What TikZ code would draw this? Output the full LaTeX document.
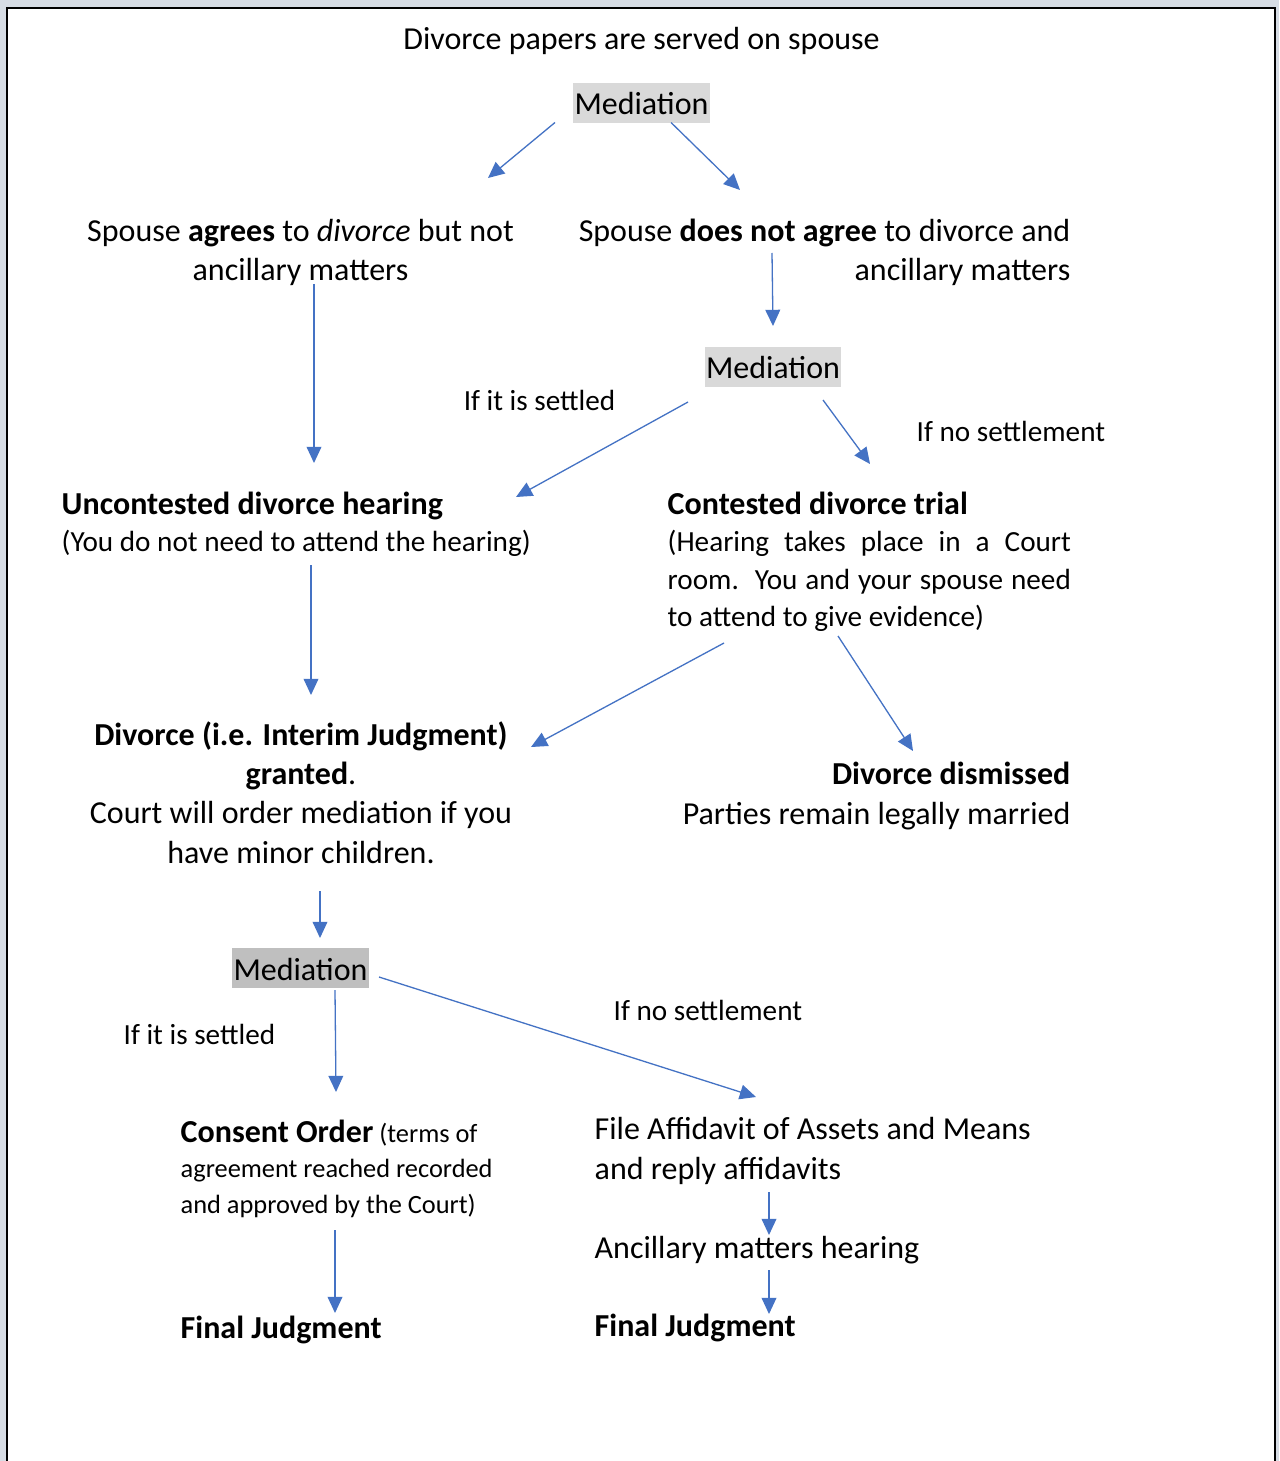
\documentclass[tikz,border=0pt]{standalone}
\usepackage{fontspec}
\setmainfont{Carlito}
\usetikzlibrary{arrows.meta,calc}
\definecolor{pagegray}{RGB}{214,220,228}
\definecolor{arrblue}{RGB}{68,114,196}
\definecolor{medlight}{RGB}{217,217,217}
\definecolor{meddark}{RGB}{191,191,191}
\newcommand{\fsmall}{\fontsize{8.3}{10.7}\selectfont}
\newcommand{\fxsmall}{\fontsize{7.5}{9.96}\selectfont}

\begin{document}
\begin{tikzpicture}[x = 0.01cm, y = -0.01cm,
    txt/.style = {inner sep = 0, font = \fontsize{9.1}{11.1}\selectfont},
    med/.style = {txt, fill = #1, inner xsep = 0.3pt, text height = 9pt, text depth = 2.4pt},
    arr/.style = {draw = arrblue, line width = 0.37pt, -{Triangle[length = 4.6pt, width = 4.2pt]}}]
  \useasboundingbox (0, 0) rectangle (1279, 1461);
  \fill [pagegray] (0, 0) rectangle (1279, 1461);
  \fill [white] (7, 8) rectangle (1275, 1461);
  \draw [line width = 0.6pt] (7, 1461) -- (7, 8) -- (1275, 8) -- (1275, 1461);

  % first stage (base = last line of a node)
  \node [txt, anchor = base] (served) at (641.5, 50) {Divorce papers are served on spouse};
  \node [med = medlight, anchor = base] (med1) at (641.5, 114.5) {Mediation};
  \node [txt, align = center, anchor = base] (agree) at (300.5, 281)
        {Spouse \textbf{agrees} to \textit{divorce} but not\\ancillary matters};
  \node [txt, align = right, anchor = base east] (disagree) at (1071, 281)
        {Spouse \textbf{does not agree} to divorce and\\ancillary matters};
  \node [med = medlight, anchor = base] (med2) at (773, 379) {Mediation};
  \node [txt, font = \fsmall, anchor = base] (settle1) at (539.5, 410) {If it is settled};
  \node [txt, font = \fsmall, anchor = base west] (nosettle1) at (916, 441) {If no settlement};

  % hearing or trial
  \node [txt, align = left, anchor = base west] (uncont) at (61, 551)
        {\textbf{Uncontested divorce hearing}\\[-0.6pt]{\fsmall (You do not need to attend the hearing)}};
  \node [txt, text width = 4.03cm, align = justify, anchor = base west] (contest) at (667, 514)
        {\textbf{Contested divorce trial}\par
         \fsmall (Hearing takes place in a Court\linebreak
         room.\ \ You and your spouse need\linebreak
         to attend to give evidence)\par};
  \node [txt, align = center, anchor = base] (granted) at (301, 863)
        {\textbf{Divorce (i.e. Interim Judgment)}\\\textbf{granted}.\\Court will order mediation if you\\have minor children.};
  \node [txt, align = right, anchor = base east] (dismissed) at (1071, 824)
        {\textbf{Divorce dismissed}\\Parties remain legally married};

  % ancillary matters
  \node [med = meddark, anchor = base] (med3) at (300.5, 980) {Mediation};
  \node [txt, font = \fsmall, anchor = base west] (settle2) at (123, 1044) {If it is settled};
  \node [txt, font = \fsmall, anchor = base west] (nosettle2) at (613, 1020) {If no settlement};
  \node [txt, font = \fxsmall, align = left, anchor = base west] (consent) at (180, 1213)
        {{\fontsize{9.1}{9.96}\selectfont\bfseries Consent Order} (terms of\\agreement reached recorded\\and approved by the Court)};
  \node [txt, anchor = base west] (final1) at (180, 1338) {\textbf{Final Judgment}};
  \node [txt, align = left, anchor = base west] (affid) at (594, 1179)
        {File Affidavit of Assets and Means\\and reply affidavits};
  \node [txt, anchor = base west] (ancil) at (594, 1258) {Ancillary matters hearing};
  \node [txt, anchor = base west] (final2) at (594, 1336) {\textbf{Final Judgment}};

  % arrows
  \draw [arr] ($(med1.base) + (-86.5, 8)$) -- ($(agree.base) + (187.5, -103)$);
  \draw [arr] ($(med1.base) + (29.5, 8)$) -- ($(disagree.base east) + (-331, -91)$);
  \draw [arr] ($(agree.base) + (13.5, 3)$) -- ($(uncont.base west) + (253, -88)$);
  \draw [arr] ($(disagree.base east) + (-299, -28)$) -- ($(med2.base) + (0, -53)$);
  \draw [arr] ($(med2.base) + (-85, 23)$) -- ($(uncont.base west) + (455, -54)$);
  \draw [arr] ($(med2.base) + (50, 21)$) -- ($(contest.base west) + (203, -50)$);
  \draw [arr] ($(uncont.base west) + (250, 14)$) -- ($(granted.base) + (10, -168)$);
  \draw [arr] ($(contest.base west) + (57, 129)$) -- ($(granted.base) + (230, -116)$);
  \draw [arr] ($(contest.base west) + (171, 122)$) -- ($(dismissed.base east) + (-158, -73)$);
  \draw [arr] ($(granted.base) + (19, 28)$) -- ($(med3.base) + (19.5, -42)$);
  \draw [arr] ($(med3.base) + (34.5, 10)$) -- ($(consent.base west) + (156, -121)$);
  \draw [arr] ($(med3.base) + (78.5, -3)$) -- ($(affid.base west) + (162, -82)$);
  \draw [arr] ($(consent.base west) + (155, 17)$) -- ($(final1.base west) + (155, -25)$);
  \draw [arr] ($(affid.base west) + (175, 13)$) -- ($(ancil.base west) + (175, -23)$);
  \draw [arr] ($(ancil.base west) + (175, 12)$) -- ($(final2.base west) + (175, -22)$);
\end{tikzpicture}
\end{document}
